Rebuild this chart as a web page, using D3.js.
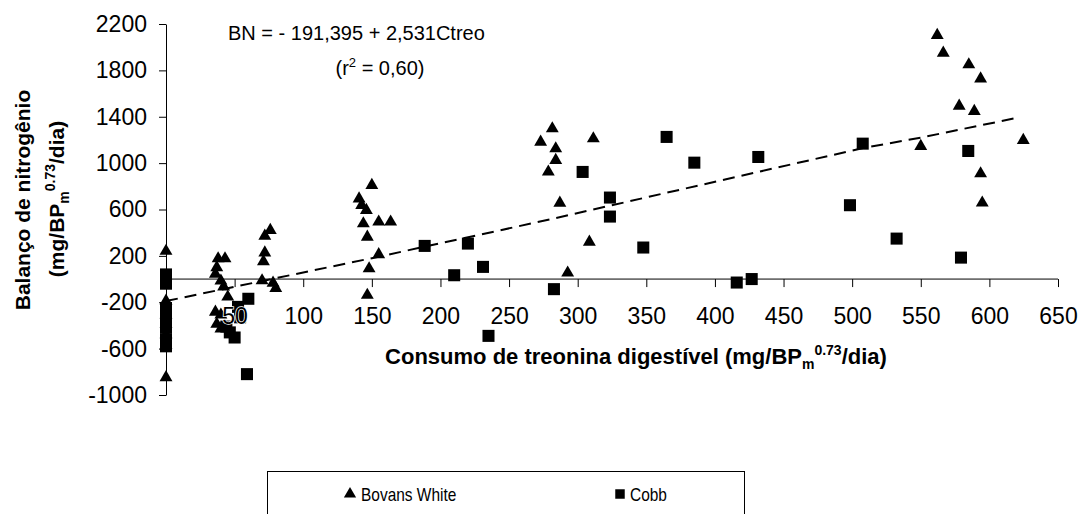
<!DOCTYPE html>
<html>
<head>
<meta charset="utf-8">
<style>
  body { margin: 0; background: #fff; }
  svg { display: block; font-family: Arial, 'Liberation Sans', sans-serif; }
  .axis .domain { stroke: #000; stroke-width: 1px; }
  .axis .tick line { stroke: #000; }
  .axis .tick text { font-size: 23px; fill: #000; }
</style>
</head>
<body>
<svg width="1084" height="514"></svg>
<script src="https://cdnjs.cloudflare.com/ajax/libs/d3/7.8.5/d3.min.js"></script>
<script>
// consumo de treonina (x) vs balanço de nitrogênio (y)
const bovans = [
  [0, 250], [0, -180], [0, -300], [0, -380], [0, -470], [0, -560], [0, -840],
  [38, 185], [43, 185], [37, 108], [36, 53], [40, -7], [42, -58], [45, -145],
  [36, -275], [40, -300], [37, -380], [40, -420],
  [76, 430], [72, 380], [72, 235], [71, 160], [70, -5], [78, -25], [80, -70],
  [150, 818], [140.7, 702], [142.6, 645], [146, 602], [143.8, 487], [155, 502],
  [163.7, 502], [146.7, 372], [155, 220], [148, 99], [146.7, -130],
  [281.5, 1306], [273, 1191], [284, 1134], [284, 1034], [278.6, 933],
  [311.4, 1220], [287, 665], [308.5, 329], [292.7, 62],
  [562, 2111], [566.4, 1959], [585, 1858], [593.6, 1737], [578, 1502],
  [589, 1456], [624.7, 1206], [550, 1154], [593.6, 918], [594.8, 666]
];

const cobb = [
  [0, 40], [0, -40], [0, -250], [0, -330], [0, -420], [0, -520], [0, -580],
  [60, -170], [52.5, -240], [54, -330], [44, -410], [46.5, -460], [50, -504], [59, -820],
  [188.5, 286], [210, 33], [220, 306], [231, 105], [282.7, -87], [235, -490],
  [303.6, 924], [323.5, 703], [323.5, 539], [364.8, 1226], [385, 1004],
  [431.6, 1053], [347.8, 272], [415.9, -30], [426.8, 0],
  [507.7, 1168], [584.6, 1105], [498.4, 637], [532.4, 349], [579.3, 185]
];

// linha de tendência
const trend = [[0, -190], [150, 180], [280, 515], [365, 745], [508, 1130], [550, 1220], [620, 1390]];

const xTicks = [50, 100, 150, 200, 250, 300, 350, 400, 450, 500, 550, 600, 650];
const yTicks = [-1000, -600, -200, 200, 600, 1000, 1400, 1800, 2200];

const svg = d3.select("svg");

const x = d3.scaleLinear().domain([0, 650]).range([166, 1058]);
const y = d3.scaleLinear().domain([-1000, 2200]).range([395, 24]);

// eixo y
svg.append("g")
  .attr("class", "axis")
  .attr("transform", "translate(166,0)")
  .call(d3.axisLeft(y).tickValues(yTicks).tickSize(7).tickPadding(12).tickSizeOuter(0)
    .tickFormat(d => String(d)));

// eixo x cruzando em zero
let xAxis = svg.append("g")
  .attr("class", "axis")
  .attr("transform", `translate(0,${y(0)})`)
  .call(d3.axisBottom(x).tickValues([0].concat(xTicks)).tickSize(8).tickPadding(21).tickSizeOuter(0)
    .tickFormat(d => d == 0 ? "" : String(d)));
xAxis.select(".domain").attr("d", `M${x(0)},0H${x(650)}`);

// tendência
svg.append("path")
  .datum(trend)
  .attr("d", d3.line().x(d => x(d[0])).y(d => y(d[1])))
  .style("fill", "none")
  .style("stroke", "#000")
  .style("stroke-width", 2)
  .style("stroke-dasharray", "12,7");

const tri = d3.symbol().type(d3.symbolTriangle).size(72);
const sq = d3.symbol().type(d3.symbolSquare).size(145);

svg.append("g")
  .selectAll("path")
  .data(cobb)
  .join("path")
  .attr("d", sq)
  .attr("transform", d => `translate(${x(d[0])},${y(d[1])})`)
  .style("fill", "#000");

svg.append("g")
  .selectAll("path")
  .data(bovans)
  .join("path")
  .attr("d", tri)
  .attr("transform", d => `translate(${x(d[0])},${y(d[1]) + 1})`)
  .style("fill", "#000");

// rótulos do eixo x por cima dos marcadores
xAxis.raise();
xAxis.selectAll(".tick text")
  .style("paint-order", "stroke")
  .style("stroke", "#fff")
  .style("stroke-width", 1.5);

// títulos dos eixos
let xt = svg.append("text")
  .attr("x", 636)
  .attr("y", 364)
  .attr("text-anchor", "middle")
  .style("font-size", "22px")
  .style("font-weight", "bold");
xt.append("tspan").text("Consumo de treonina digestível (mg/BP");
xt.append("tspan").attr("dy", 5).style("font-size", "14px").text("m");
xt.append("tspan").attr("dy", -14).style("font-size", "14px").text("0.73");
xt.append("tspan").attr("dy", 9).text("/dia)");

svg.append("text")
  .attr("transform", "translate(30,200) rotate(-90)")
  .attr("text-anchor", "middle")
  .style("font-size", "21px")
  .style("font-weight", "bold")
  .text("Balanço de nitrogênio");

let yt = svg.append("text")
  .attr("transform", "translate(64,199) rotate(-90)")
  .attr("text-anchor", "middle")
  .style("font-size", "21px")
  .style("font-weight", "bold");
yt.append("tspan").text("(mg/BP");
yt.append("tspan").attr("dy", 5).style("font-size", "14px").text("m");
yt.append("tspan").attr("dy", -14).style("font-size", "14px").text("0.73");
yt.append("tspan").attr("dy", 9).text("/dia)");

// equação
svg.append("text")
  .attr("x", 228)
  .attr("y", 40)
  .style("font-size", "20px")
  .text("BN = - 191,395 + 2,531Ctreo");

let r2 = svg.append("text")
  .attr("x", 380)
  .attr("y", 75)
  .attr("text-anchor", "middle")
  .style("font-size", "20px");
r2.append("tspan").text("(r");
r2.append("tspan").attr("dy", -8).style("font-size", "13px").text("2");
r2.append("tspan").attr("dy", 8).text(" = 0,60)");

// legenda
let leg = svg.append("g");
leg.append("rect")
  .attr("x", 267.5).attr("y", 471.5)
  .attr("width", 477).attr("height", 60)
  .style("fill", "#fff")
  .style("stroke", "#000");

leg.append("path")
  .attr("d", d3.symbol().type(d3.symbolTriangle).size(65))
  .attr("transform", "translate(350,494)");
leg.append("text")
  .attr("transform", "translate(361,501) scale(0.86,1)")
  .style("font-size", "18px")
  .text("Bovans White");

leg.append("path")
  .attr("d", d3.symbol().type(d3.symbolSquare).size(90))
  .attr("transform", "translate(620,494)");
leg.append("text")
  .attr("transform", "translate(630,501) scale(0.86,1)")
  .style("font-size", "18px")
  .text("Cobb");
</script>
</body>
</html>
